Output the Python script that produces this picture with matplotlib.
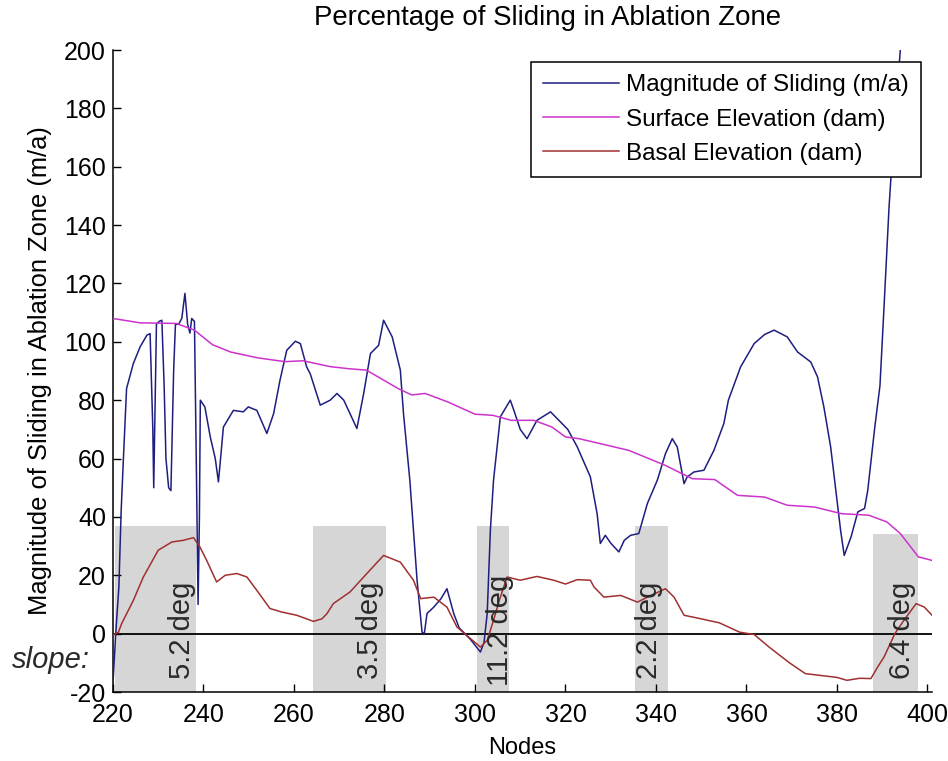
import matplotlib
matplotlib.use("Agg")
import matplotlib.pyplot as plt

plt.rcParams['font.family'] = ['Liberation Sans', 'DejaVu Sans']
plt.rcParams['axes.unicode_minus'] = False

# Magnitude of sliding along the flowline (node, m/a)
sliding_nodes = [220, 220.6, 221.3, 221.8, 222.3, 223, 224.5, 226, 227.5, 228.2, 228.8, 229.0,
                 229.6, 230.2, 230.8, 231.3, 231.7, 232.3, 232.8, 233.4, 233.8, 234.5, 235.2,
                 235.9, 236.5, 237.0, 237.4, 238.0, 238.4, 238.8, 239.1, 239.3, 240.3, 241.5,
                 242.6, 243.3, 244.4, 246.6, 248.8, 249.9, 251.8, 254, 255.5, 256.9, 258.4,
                 260.3, 261.4, 262.8, 263.6, 265.8, 268, 269.5, 271, 273.9, 275.4, 276.9,
                 278.7, 279.8, 281.7, 283.5, 284.2, 285.6, 287.2, 288.3, 288.8, 289.4, 290.9,
                 292.5, 293.8, 295.3, 296.5, 299, 301.2, 302, 302.7, 303.4, 304.1, 305.6,
                 307.8, 308.6, 310, 311.5, 313.7, 316.7, 318.9, 320.5, 322.6, 325.5, 327,
                 327.7, 328.8, 330, 331.8, 333, 334.4, 336.2, 338.1, 340.3, 342.1, 343.6,
                 344.7, 346.2, 346.9, 348.4, 350.6, 352.8, 355, 356, 358.7, 361.7, 364,
                 366.1, 369, 371.3, 374.2, 375.7, 377.1, 378.6, 380.8, 381.6, 383.1, 384.6,
                 386.1, 386.8, 388.3, 389.5, 390.4, 391.5, 392.5, 394, 395]
sliding_vals = [-17, 0, 16, 42, 60, 84, 92.6, 98.3, 102.3, 102.8, 70, 50,
                106, 107, 107.4, 85, 60, 50, 49, 90, 106, 106, 108,
                116.6, 106, 103, 108, 107, 60, 10, 40, 80, 77.7, 67.4,
                60, 52, 70.8, 76.5, 76, 77.7, 76.5, 68.6, 75.4, 86.8, 97.1,
                100.2, 99.4, 91.4, 89, 78.3, 80, 82.3, 80, 70.3, 82.3, 96,
                98.8, 107.4, 101.7, 90.3, 75.4, 52.6, 18.3, 0.5, 0, 6.9, 9.1,
                12, 15.4, 6.9, 2, -2, -6.3, -3, 6.9, 35.4, 52.6, 74.3,
                80, 76.5, 70, 66.8, 73.1, 76, 72.5, 70, 64, 53.7, 41,
                30.9, 33.7, 31, 28, 32, 33.7, 34.3, 44.6, 52.6, 61.7, 66.8,
                64, 51.4, 53.7, 55.4, 56, 62.8, 72, 80, 91.4, 99.4, 102.5,
                104, 101.7, 96.5, 93.1, 88, 77.7, 64, 35.4, 26.8, 33.1, 41.7,
                42.9, 49.1, 70, 85, 112, 146, 170, 200, 215]

# Surface elevation (dam)
surface_nodes = [220, 226, 234, 238, 242, 246, 252, 258, 262, 268, 272, 276, 278, 283, 286,
                 289, 294, 300, 304, 308, 313, 317, 320, 323, 328, 334, 342, 348, 353, 358,
                 364, 369, 375, 381, 387, 391, 394, 398, 401]
surface_vals = [108, 106.5, 106.3, 104, 99, 96.5, 94.5, 93.2, 93.5, 91.5, 90.8, 90.3, 88.5, 84,
                81.8, 82.3, 79.4, 75.2, 74.8, 73.1, 73.1, 70.8, 67.4, 66.8, 65, 62.8, 57.7,
                53.1, 52.8, 47.4, 46.8, 44, 43.4, 41.1, 40.6, 38.3, 34.3, 26.3, 25.1]

# Basal elevation (dam)
basal_nodes = [220, 221.2, 221.9, 224.5, 226.7, 230, 233, 235.6, 237.8, 239.2, 240.7, 242.9,
               244.8, 247.4, 249.6, 251.8, 254.7, 257.3, 260.6, 264.3, 266.2, 267.3, 268.7,
               272.4, 276.1, 279.8, 283.5, 286.4, 288, 290.9, 293.8, 296, 299, 301.2, 302.7,
               304.1, 305.5, 307.1, 310, 313.7, 317.4, 320, 322.6, 325.5, 326.3, 328.5,
               332.2, 335.9, 338.1, 342.1, 344, 346.2, 349.9, 354, 358.5, 361.7, 365, 369.5,
               373, 380, 382.2, 385, 387.5, 389, 390.4, 392.8, 394.8, 397.5, 399.3, 401]
basal_vals = [-0.5, 0.5, 3.4, 11.4, 19.4, 28.6, 31.4, 32, 32.9, 29.7, 25.1, 17.7,
              20, 20.6, 19.4, 14.8, 8.6, 7.4, 6.3, 4.2, 5.1, 6.9, 10.3,
              14.3, 20.6, 26.8, 24.5, 18.3, 12, 12.5, 9.1, 2.3, -1.7, -4.6, -2.3,
              4.6, 12, 19.4, 18.3, 19.6, 18.3, 17, 18.5, 18.3, 16, 12.5,
              13.1, 10.8, 12.5, 15.4, 12.5, 6.3, 5.1, 3.7, 0.5, -0.3, -4.6, -10,
              -13.7, -15, -16, -15.3, -15.4, -11.4, -8, 0, 4.6, 10.3, 9.1, 6.3]

# Steep reaches: node span, shading height and slope annotation
slope_start = [220.4, 264.1, 300.4, 335.3, 387.9]
slope_end = [238.4, 280.3, 307.6, 342.7, 398.0]
slope_top = [37, 37, 37, 37, 34.3]
slope_text_x = [235.2, 276.8, 305.6, 338.4, 394.4]
slope_labels = ["5.2 deg", "3.5 deg", "11.2 deg", "2.2 deg", "6.4 deg"]

x_ticks = list(range(220, 401, 20))
y_ticks = list(range(-20, 201, 20))

fig = plt.figure(figsize=(9.48, 7.61), dpi=100)
ax = fig.add_axes([113 / 948, 69 / 761, 819 / 948, 642 / 761])

y_bottom = -20
for x0, x1, top in zip(slope_start, slope_end, slope_top):
    ax.fill_between([x0, x1], y_bottom, top, color='#d6d6d6', lw=0, zorder=1)

ax.axhline(0, color='black', lw=1.3, zorder=2)

ax.plot(sliding_nodes, sliding_vals, color='#1e1e80', lw=1.1, zorder=3,
        label='Magnitude of Sliding (m/a)')
ax.plot(surface_nodes, surface_vals, color='#cc33cc', lw=1.1, zorder=3,
        label='Surface Elevation (dam)')
ax.plot(basal_nodes, basal_vals, color='#a03030', lw=1.1, zorder=3,
        label='Basal Elevation (dam)')

for x, lab in zip(slope_text_x, slope_labels):
    ax.text(x, 1, lab, rotation=90, ha='center', va='center', fontsize=21,
            color='#2a2a2a', zorder=4)

ax.text(206.3, -9.2, "slope:", fontsize=21, style='italic', color='#2a2a2a',
        ha='center', va='center', clip_on=False)

ax.set_xlim(220, 401)
ax.set_ylim(-20, 200)
ax.set_xticks(x_ticks)
ax.set_yticks(y_ticks)
ax.tick_params(direction='in', length=6, width=1, labelsize=18, pad=5)
ax.tick_params(axis='x', pad=8)
for side in ('top', 'right'):
    ax.spines[side].set_visible(False)
for side in ('left', 'bottom'):
    ax.spines[side].set_linewidth(1.1)

ax.set_xlabel('Nodes', fontsize=17, labelpad=7)
ax.set_ylabel('Magnitude of Sliding in Ablation Zone (m/a)', fontsize=18.4, labelpad=9)
fig.text(547 / 948, 1 - 18 / 761, 'Percentage of Sliding in Ablation Zone',
         fontsize=19.9, ha='center', va='center')

leg = ax.legend(loc='upper right', bbox_to_anchor=(0.9866, 0.981), fontsize=17.5,
                frameon=True, fancybox=False, framealpha=1, edgecolor='black',
                handlelength=3.1, handletextpad=0.3, labelspacing=0.5,
                borderpad=0.5, borderaxespad=0)
leg.get_frame().set_linewidth(1.1)
leg.set_zorder(5)

fig.savefig('out.png', dpi=100)
